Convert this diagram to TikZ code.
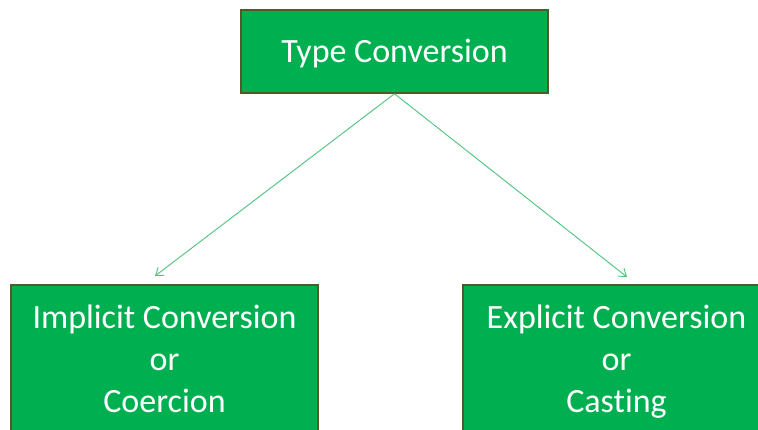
\documentclass[tikz,border=0pt]{standalone}
\usepackage{fontspec}
\setmainfont[RawFeature=-liga]{Carlito}
\usetikzlibrary{arrows.meta}
\definecolor{boxgreen}{HTML}{00B050}
\definecolor{boxborder}{HTML}{4F5A28}
\definecolor{linkgreen}{HTML}{4CC27C}
\tikzset{
  box/.style={draw=boxborder, line width=1.5pt, fill=boxgreen, text=white,
    font=\fontsize{34}{42}\selectfont, align=center, inner sep=0pt},
  link/.style={draw=linkgreen, line width=0.9pt, -{Straight Barb[length=7pt,width=10pt]}}
}
\begin{document}
\begin{tikzpicture}[x=1pt,y=1pt]
\useasboundingbox (0,0) rectangle (758,429);
\clip (0,0) rectangle (758,429);
\node[box, minimum width=307, minimum height=83, text depth=2pt] (top) at (394.5,377.5) {Type Conversion};
\node[box, minimum width=307, minimum height=154, anchor=north] (imp) at (164.5,145) {Implicit Conversion\\or\\Coercion\vphantom{g}};
\node[box, minimum width=307, minimum height=154, anchor=north] (exp) at (616.5,145) {Explicit Conversion\\or\\Casting\vphantom{g}};
\coordinate (impend) at (155,153);
\coordinate (expend) at (627,152);
\draw[link] (top.south) -- (impend);
\draw[link] (top.south) -- (expend);
\end{tikzpicture}
\end{document}
